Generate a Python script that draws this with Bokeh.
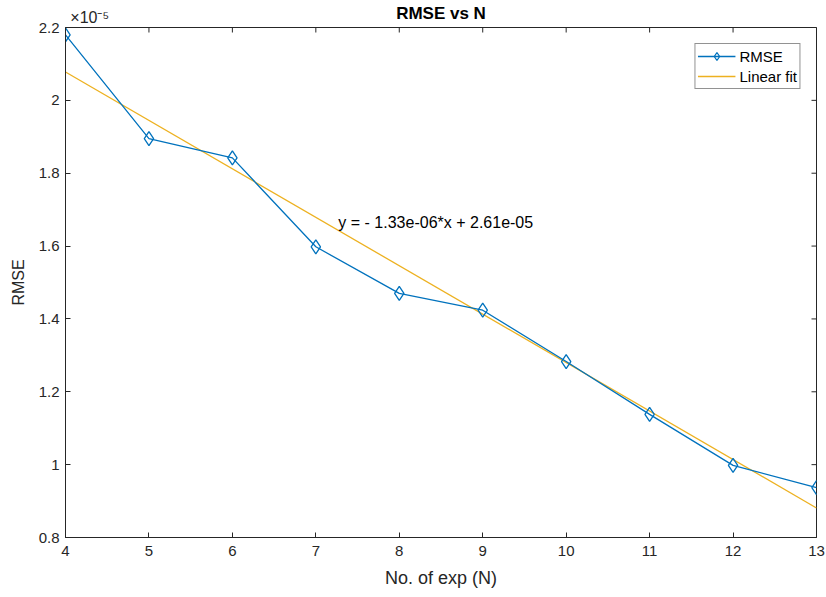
import math
from bokeh.plotting import figure
from bokeh.models import (LinearAxis, Range1d, Label, Legend, LegendItem, FixedTicker)
from bokeh.embed import file_html
from bokeh.resources import INLINE

# ---- data ----
n_exp = [4, 5, 6, 7, 8, 9, 10, 11, 12, 13]
rmse_e5 = [2.18, 1.895, 1.842, 1.598, 1.470, 1.424, 1.283, 1.138, 0.998, 0.937]  # units of 1e-5
fit_x = [4, 13]
fit_y_e5 = [2.078, 0.881]  # y = -1.33e-06*x + 2.61e-05 at the ends, units of 1e-5
x_ticks = [4, 5, 6, 7, 8, 9, 10, 11, 12, 13]
y_ticks = [0.8, 1.0, 1.2, 1.4, 1.6, 1.8, 2.0, 2.2]
y_tick_labels = ["0.8", "1", "1.2", "1.4", "1.6", "1.8", "2", "2.2"]
fit_text = "y = - 1.33e-06*x + 2.61e-05"
exp_text = "×10⁻⁵"
title_text = "RMSE vs N"

BLUE = "#0072BD"
ORANGE = "#EDB120"
AX = "#262626"
FONT = "Liberation Sans"

x0, x1 = x_ticks[0], x_ticks[-1]
y0, y1 = y_ticks[0], y_ticks[-1]
exp_pos = x0 + 0.29  # centre of the exponent note, just right of the box's left edge

p = figure(width=826, height=597, output_backend="svg", toolbar_location=None,
           x_range=Range1d(x0, x1), y_range=Range1d(y0, y1),
           min_border_left=65, min_border_right=10, min_border_top=27, min_border_bottom=60,
           x_axis_label="No. of exp (N)", y_axis_label="RMSE")
p.title.visible = False
p.outline_line_color = AX
p.outline_line_width = 1
p.xgrid.visible = False
p.ygrid.visible = False
p.background_fill_color = "white"
p.border_fill_color = "white"

def style_axis(ax, tick_size="15px", label_size="17px"):
    ax.axis_line_color = AX
    ax.axis_line_width = 1
    ax.major_tick_line_color = AX
    ax.major_tick_in = 5
    ax.major_tick_out = 0
    ax.minor_tick_line_color = None
    ax.major_label_text_font = FONT
    ax.major_label_text_font_size = tick_size
    ax.major_label_text_color = AX
    ax.axis_label_text_font = FONT
    ax.axis_label_text_font_size = label_size
    ax.axis_label_text_font_style = "normal"
    ax.axis_label_text_color = AX

xa = p.xaxis[0]
ya = p.yaxis[0]
xa.ticker = FixedTicker(ticks=x_ticks)
ya.ticker = FixedTicker(ticks=y_ticks)
style_axis(xa, label_size="18px")
style_axis(ya, label_size="16px")
xa.major_label_standoff = 8
xa.axis_label_standoff = 9
ya.major_label_standoff = 6
ya.axis_label_standoff = 9
ya.major_label_overrides = dict(zip(y_ticks, y_tick_labels))

# top axis carries the exponent note and the title
top = LinearAxis(ticker=FixedTicker(ticks=[exp_pos]), axis_label=title_text)
top.axis_line_color = None
top.major_tick_line_color = None
top.minor_tick_line_color = None
top.major_tick_in = 0
top.major_tick_out = 0
top.major_label_overrides = {exp_pos: exp_text}
top.major_label_text_font = FONT
top.major_label_text_font_size = "16px"
top.major_label_text_color = AX
top.major_label_standoff = 2
top.axis_label_text_font = FONT
top.axis_label_text_font_size = "17px"
top.axis_label_text_font_style = "bold"
top.axis_label_text_color = "black"
top.axis_label_standoff = -17
p.add_layout(top, "above")

# inward ticks on the top and right edges of the box (half of each dash is clipped by the frame)
p.scatter(x_ticks, [y1] * len(x_ticks), marker="dash", size=10, angle=math.pi / 2,
          line_color=AX, line_width=1)
p.scatter([x1] * len(y_ticks), y_ticks, marker="dash", size=10, angle=0,
          line_color=AX, line_width=1)

fit_r = p.line(fit_x, fit_y_e5, line_color=ORANGE, line_width=1.3)
line_r = p.line(n_exp, rmse_e5, line_color=BLUE, line_width=1.3)
mk_r = p.scatter(n_exp, rmse_e5, marker="diamond", size=14, fill_color=None,
                 line_color=BLUE, line_width=1.3)

p.add_layout(Label(x=7.27, y=1.665, text=fit_text, text_font=FONT, text_font_size="16px",
                   text_color="black", text_baseline="middle"))

legend = Legend(items=[LegendItem(label="RMSE", renderers=[line_r, mk_r]),
                       LegendItem(label="Linear fit", renderers=[fit_r])],
                location="top_right", margin=16, padding=2, spacing=0,
                label_text_font=FONT, label_text_font_size="15px", label_text_color="black",
                glyph_width=38, glyph_height=20, label_standoff=4, label_height=20,
                border_line_color=AX, border_line_width=1, background_fill_color="white",
                background_fill_alpha=1)
p.add_layout(legend, "center")

open("out.html", "w").write(file_html(p, INLINE))
